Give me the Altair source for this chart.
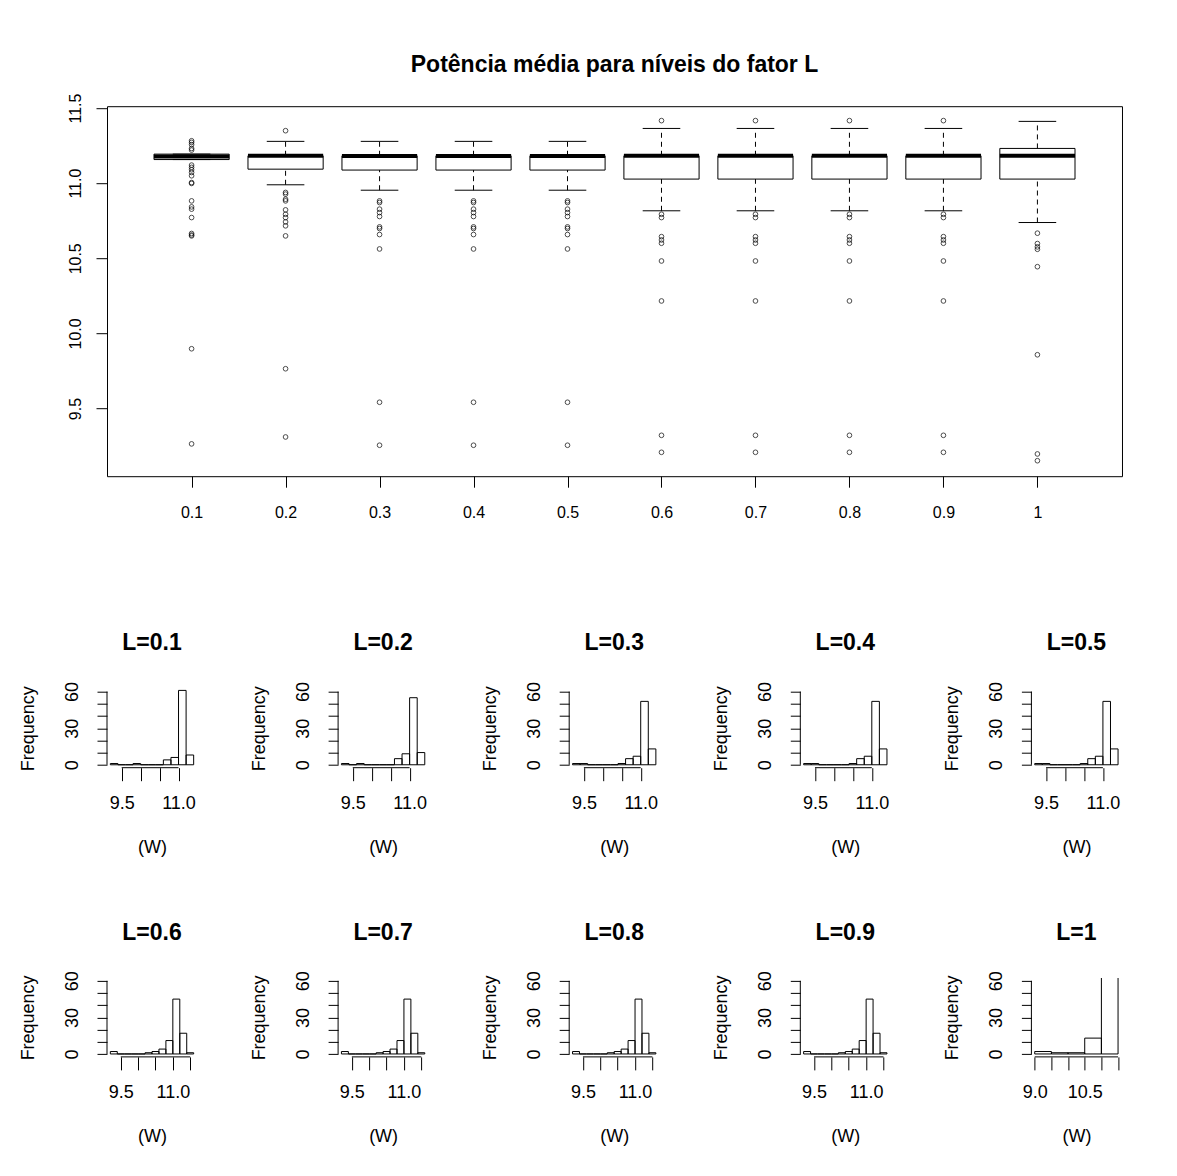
import json
import altair as alt
import pandas as pd

FONT = "Liberation Sans"

# ---------------- boxplot: summary per level of L ----------------
levels = ["0.1", "0.2", "0.3", "0.4", "0.5", "0.6", "0.7", "0.8", "0.9", "1"]
box_q1 = [11.157, 11.093, 11.087, 11.087, 11.087, 11.027, 11.027, 11.027, 11.027, 11.027]
box_med = [11.178, 11.182, 11.180, 11.180, 11.180, 11.182, 11.182, 11.182, 11.182, 11.182]
box_q3 = [11.193, 11.182, 11.182, 11.182, 11.182, 11.182, 11.182, 11.182, 11.182, 11.231]
whisk_lo = [11.157, 10.989, 10.953, 10.953, 10.953, 10.816, 10.816, 10.816, 10.816, 10.738]
whisk_hi = [11.193, 11.278, 11.278, 11.278, 11.278, 11.364, 11.364, 11.364, 11.364, 11.411]
outliers = [
    [11.282, 11.271, 11.256, 11.231, 11.220, 11.120, 11.105, 11.089, 11.071, 11.049,
     11.004, 10.998, 10.882, 10.842, 10.827, 10.771, 10.665, 10.655, 10.649, 9.898, 9.265],
    [11.349, 10.938, 10.927, 10.893, 10.882, 10.822, 10.793, 10.771, 10.742, 10.716,
     10.649, 9.765, 9.311],
    [10.882, 10.871, 10.827, 10.804, 10.778, 10.709, 10.698, 10.658, 10.562, 9.542, 9.256],
    [10.882, 10.871, 10.827, 10.804, 10.778, 10.709, 10.698, 10.658, 10.562, 9.542, 9.256],
    [10.882, 10.871, 10.827, 10.804, 10.778, 10.709, 10.698, 10.658, 10.562, 9.542, 9.256],
    [11.416, 10.793, 10.771, 10.644, 10.622, 10.600, 10.482, 10.216, 9.322, 9.209],
    [11.416, 10.793, 10.771, 10.644, 10.622, 10.600, 10.482, 10.216, 9.322, 9.209],
    [11.416, 10.793, 10.771, 10.644, 10.622, 10.600, 10.482, 10.216, 9.322, 9.209],
    [11.416, 10.793, 10.771, 10.644, 10.622, 10.600, 10.482, 10.216, 9.322, 9.209],
    [10.667, 10.598, 10.576, 10.560, 10.444, 9.858, 9.198, 9.153],
]
box_yticks = [9.5, 10.0, 10.5, 11.0, 11.5]
box_ylim = [9.05, 11.512]

# ---------------- histograms per level of L ----------------
hist_titles = ["L=0.1", "L=0.2", "L=0.3", "L=0.4", "L=0.5",
               "L=0.6", "L=0.7", "L=0.8", "L=0.9", "L=1"]
breaks_low = [9.2, 9.4, 9.6, 9.8, 10.0, 10.2, 10.4, 10.6, 10.8, 11.0, 11.2, 11.4]
breaks_mid = [9.2, 9.4, 9.6, 9.8, 10.0, 10.2, 10.4, 10.6, 10.8, 11.0, 11.2, 11.4, 11.6]
breaks_top = [9.0, 9.5, 10.0, 10.5, 11.0, 11.5]
hist_breaks = [breaks_low] * 5 + [breaks_mid] * 4 + [breaks_top]
hist_counts = [
    [1, 0, 0, 1, 0, 0, 0, 4, 6, 61, 8],
    [1, 0, 1, 0, 0, 0, 0, 5, 9, 55, 10],
    [1, 1, 0, 0, 0, 0, 1, 5, 7, 52, 13],
    [1, 1, 0, 0, 0, 0, 1, 5, 7, 52, 13],
    [1, 1, 0, 0, 0, 0, 1, 5, 7, 52, 13],
    [2, 0, 0, 0, 0, 1, 2, 4, 11, 45, 17, 1],
    [2, 0, 0, 0, 0, 1, 2, 4, 11, 45, 17, 1],
    [2, 0, 0, 0, 0, 1, 2, 4, 11, 45, 17, 1],
    [2, 0, 0, 0, 0, 1, 2, 4, 11, 45, 17, 1],
    [2, 1, 1, 13, 64],
]
ticks_low = [9.5, 10.0, 10.5, 11.0]
ticks_mid = [9.5, 10.0, 10.5, 11.0, 11.5]
ticks_top = [9.0, 9.5, 10.0, 10.5, 11.0, 11.5]
hist_xticks = [ticks_low] * 5 + [ticks_mid] * 4 + [ticks_top]
hist_xlabels = [[9.5, 11.0]] * 9 + [[9.0, 10.5]]
freq_ticks = [0, 10, 20, 30, 40, 50, 60]
freq_labels = [0, 30, 60]
freq_lim = [0, 60]

# ---------------- layout ----------------
BOX_W, BOX_H = 1015, 370
HIST_W, HIST_H = 90, 79
EXP = 0.04  # axis range expansion


def expand(lo, hi):
    span = hi - lo
    return [lo - EXP * span, hi + EXP * span]


common_axis = dict(grid=False, domain=False, tickColor="black", labelColor="black",
                   titleColor="black", labelFont=FONT, titleFont=FONT,
                   labelFlush=False, labelOverlap=False, tickWidth=1)

# ---- boxplot ----
box_df = pd.DataFrame({
    "pos": list(range(1, len(levels) + 1)),
    "nivel": levels,
    "q1": box_q1, "med": box_med, "q3": box_q3,
    "wlo": whisk_lo, "whi": whisk_hi,
})
out_df = pd.DataFrame(
    [{"pos": i + 1, "valor": v} for i, vals in enumerate(outliers) for v in vals]
)

bx_scale = alt.Scale(domain=[0.1, len(levels) + 0.9], nice=False, zero=False)
by_scale = alt.Scale(domain=box_ylim, nice=False, zero=False)

box_xaxis = alt.Axis(values=list(range(1, len(levels) + 1)),
                     labelExpr=json.dumps(levels) + "[datum.value - 1]",
                     title=None, tickSize=11, labelPadding=30,
                     labelBaseline="alphabetic", labelFontSize=16, **common_axis)
box_yaxis = alt.Axis(values=box_yticks, format=".1f", title=None, tickSize=11,
                     labelAngle=270, labelAlign="center", labelBaseline="alphabetic",
                     labelPadding=15.3, labelFontSize=16, minExtent=86.5,
                     maxExtent=300, **common_axis)

base = alt.Chart(box_df).transform_calculate(
    bx0="datum.pos - 0.4", bx1="datum.pos + 0.4",
    cx0="datum.pos - 0.2", cx1="datum.pos + 0.2",
)
dash = [5, 4]
whisk_low = base.mark_rule(color="black", strokeWidth=1, strokeDash=dash).encode(
    x=alt.X("pos:Q", scale=bx_scale, axis=box_xaxis),
    y=alt.Y("wlo:Q", scale=by_scale, axis=box_yaxis),
    y2="q1:Q",
)
whisk_high = base.mark_rule(color="black", strokeWidth=1, strokeDash=dash).encode(
    x=alt.X("pos:Q", axis=box_xaxis), y=alt.Y("q3:Q", axis=box_yaxis), y2="whi:Q",
)
cap_low = base.mark_rule(color="black", strokeWidth=1).encode(
    x=alt.X("cx0:Q", axis=box_xaxis), x2="cx1:Q", y=alt.Y("wlo:Q", axis=box_yaxis),
)
cap_high = base.mark_rule(color="black", strokeWidth=1).encode(
    x=alt.X("cx0:Q", axis=box_xaxis), x2="cx1:Q", y=alt.Y("whi:Q", axis=box_yaxis),
)
box_rect = base.mark_rect(filled=False, color="black", strokeWidth=1).encode(
    x=alt.X("bx0:Q", axis=box_xaxis), x2="bx1:Q",
    y=alt.Y("q1:Q", axis=box_yaxis), y2="q3:Q",
)
median = base.mark_rule(color="black", strokeWidth=4, strokeCap="butt").encode(
    x=alt.X("bx0:Q", axis=box_xaxis), x2="bx1:Q", y=alt.Y("med:Q", axis=box_yaxis),
)
points = alt.Chart(out_df).mark_point(shape="circle", filled=False, color="black",
                                      size=22, strokeWidth=1).encode(
    x=alt.X("pos:Q", axis=box_xaxis), y=alt.Y("valor:Q", axis=box_yaxis),
)

box_chart = alt.layer(
    whisk_low, whisk_high, cap_low, cap_high, box_rect, median, points
).properties(
    width=BOX_W, height=BOX_H,
    view=alt.ViewBackground(stroke="black", strokeWidth=1),
    title=alt.TitleParams("Potência média para níveis do fator L", font=FONT,
                          fontSize=23, fontWeight="bold", color="black",
                          anchor="middle", frame="group", baseline="alphabetic",
                          offset=0, dy=1.5),
)


# ---- histogram panels ----
def hist_panel(title, breaks, counts, xticks, xlabels):
    df = pd.DataFrame({"lo": breaks[:-1], "hi": breaks[1:], "n": counts})
    xs = alt.Scale(domain=expand(breaks[0], breaks[-1]), nice=False, zero=False)
    ydom = expand(*freq_lim)
    ys = alt.Scale(domain=ydom, nice=False, zero=False)
    xaxis = alt.Axis(
        values=xticks,
        labelExpr="indexof(%s, datum.value) >= 0 ? format(datum.value, '.1f') : ''"
                  % json.dumps(xlabels),
        title="(W)", titleX=HIST_W / 2, titleY=84.4, titleAlign="center",
        titleBaseline="alphabetic", titleFontSize=18, titleFontWeight="normal",
        tickSize=13, labelPadding=27.6, labelBaseline="alphabetic",
        labelFontSize=18, **common_axis)
    yaxis = alt.Axis(
        values=freq_ticks,
        labelExpr="indexof(%s, datum.value) >= 0 ? datum.label : ''"
                  % json.dumps(freq_labels),
        title="Frequency", titleAngle=270, titleX=-73.5, titleY=HIST_H / 2,
        titleAlign="center", titleBaseline="alphabetic", titleFontSize=18,
        titleFontWeight="normal", tickSize=10, labelPadding=19.7,
        labelAngle=270, labelAlign="center", labelBaseline="alphabetic",
        labelFontSize=18, **common_axis)
    bars = alt.Chart(df).mark_rect(filled=False, color="black", strokeWidth=1,
                                   clip=True).encode(
        x=alt.X("lo:Q", scale=xs, axis=xaxis), x2="hi:Q",
        y=alt.Y("n:Q", scale=ys, axis=yaxis), y2=alt.Y2(datum=0),
    )
    xline = alt.Chart(pd.DataFrame({"a": [xticks[0]], "b": [xticks[-1]]})).mark_rule(
        color="black", strokeWidth=1).encode(
        x=alt.X("a:Q", axis=xaxis), x2="b:Q", y=alt.Y(datum=ydom[0], axis=yaxis),
    )
    yline = alt.Chart(pd.DataFrame({"c0": [freq_ticks[0]], "c1": [freq_ticks[-1]]})).mark_rule(
        color="black", strokeWidth=1).encode(
        x=alt.X(datum=xs.domain[0], axis=xaxis), y=alt.Y("c0:Q", axis=yaxis), y2="c1:Q",
    )
    return alt.layer(bars, xline, yline).properties(
        width=HIST_W, height=HIST_H,
        title=alt.TitleParams(title, font=FONT, fontSize=23, fontWeight="bold",
                              color="black", anchor="middle", frame="group",
                              baseline="alphabetic", offset=8.3),
    )


panels = [hist_panel(t, b, c, xt, xl) for t, b, c, xt, xl in
          zip(hist_titles, hist_breaks, hist_counts, hist_xticks, hist_xlabels)]

row1 = alt.hconcat(*panels[:5], spacing=53.1)
row2 = alt.hconcat(*panels[5:], spacing=53.1)
rows = alt.vconcat(row1, row2, spacing=64.2)

chart = alt.vconcat(box_chart, rows, spacing=110.5).properties(
    padding={"left": 19, "top": 52.2, "right": 10, "bottom": 10},
    background="white",
).configure(font=FONT, view=alt.ViewConfig(strokeWidth=0))

chart.save("out.html", embed_options={"renderer": "svg", "actions": False})
